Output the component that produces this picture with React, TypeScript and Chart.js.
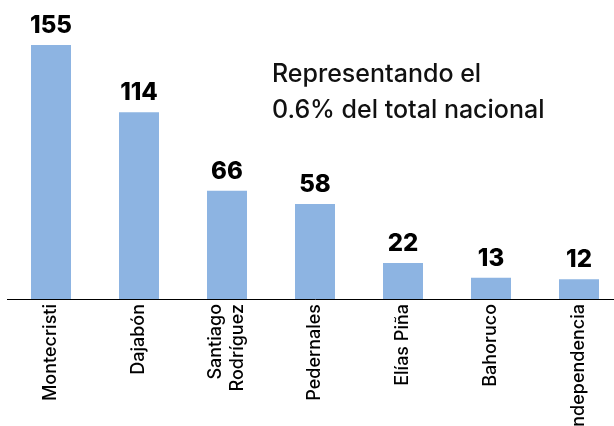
import React, { useEffect, useRef } from "react";
import { Chart, registerables } from "chart.js";

Chart.register(...registerables);

const categories: (string | string[])[] = [
  "Montecristi",
  "Dajabón",
  ["Santiago", "Rodríguez"],
  "Pedernales",
  "Elías Piña",
  "Bahoruco",
  "Independencia",
];
const values: number[] = [155, 114, 66, 58, 22, 13, 12];
const annotationLines: string[] = ["Representando el", "0.6% del total nacional"];

const FONT = "Inter, 'Open Sans', sans-serif";

export default function App() {
  const ref = useRef<HTMLCanvasElement | null>(null);

  useEffect(() => {
    if (!ref.current) return;

    const centerMultiline = {
      id: "centerMultiline",
      beforeDraw(chart: any) {
        const s = chart.scales.x;
        const items = s.getLabelItems(chart.chartArea);
        items.forEach((it: any) => {
          if (Array.isArray(it.label) && !it._shifted) {
            const lh = it.font.lineHeight;
            it.options.translation[0] -= ((it.label.length - 1) * lh) / 2;
            it._shifted = true;
          }
        });
      },
    };

    const valueLabels = {
      id: "valueLabels",
      afterDatasetsDraw(chart: any) {
        const ctx = chart.ctx;
        const meta = chart.getDatasetMeta(0);
        ctx.save();
        ctx.fillStyle = "#000";
        ctx.font = `800 24px ${FONT}`;
        ctx.textAlign = "center";
        ctx.textBaseline = "alphabetic";
        meta.data.forEach((bar: any, i: number) => {
          ctx.fillText(String(values[i]), bar.x, bar.y - 12);
        });
        ctx.restore();
      },
    };

    const annotation = {
      id: "annotation",
      afterDraw(chart: any) {
        const ctx = chart.ctx;
        ctx.save();
        ctx.fillStyle = "#111";
        ctx.font = `500 25px ${FONT}`;
        ctx.textAlign = "left";
        ctx.textBaseline = "alphabetic";
        annotationLines.forEach((t, i) => ctx.fillText(t, 272, 82 + i * 36));
        ctx.restore();
      },
    };

    const chart = new Chart(ref.current, {
      type: "bar",
      data: {
        labels: categories,
        datasets: [
          {
            data: values,
            backgroundColor: "#8DB4E2",
            borderWidth: 0,
            categoryPercentage: 1,
            barPercentage: 40 / 88,
          },
        ],
      },
      options: {
        responsive: false,
        animation: false,
        layout: { padding: { left: 7, right: 7, top: 45, bottom: 0 } },
        plugins: { legend: { display: false }, tooltip: { enabled: false } },
        scales: {
          x: {
            grid: { display: false, drawTicks: false },
            border: { display: true, color: "#000", width: 1 },
            ticks: {
              autoSkip: false,
              minRotation: 90,
              maxRotation: 90,
              padding: 5,
              color: "#000",
              font: { family: FONT, size: 18, weight: "500", lineHeight: 1.22 },
            },
            afterFit: (scale: any) => {
              scale.height = 151;
            },
          },
          y: {
            display: false,
            min: 0,
            max: 155,
          },
        },
      },
      plugins: [centerMultiline, valueLabels, annotation],
    });

    return () => chart.destroy();
  }, []);

  return (
    <div
      style={{
        position: "fixed",
        left: 0,
        top: 0,
        width: 614,
        height: 426,
        overflow: "hidden",
        background: "#fff",
      }}
    >
      <canvas ref={ref} width={630} height={450} style={{ width: 630, height: 450, display: "block" }} />
    </div>
  );
}
